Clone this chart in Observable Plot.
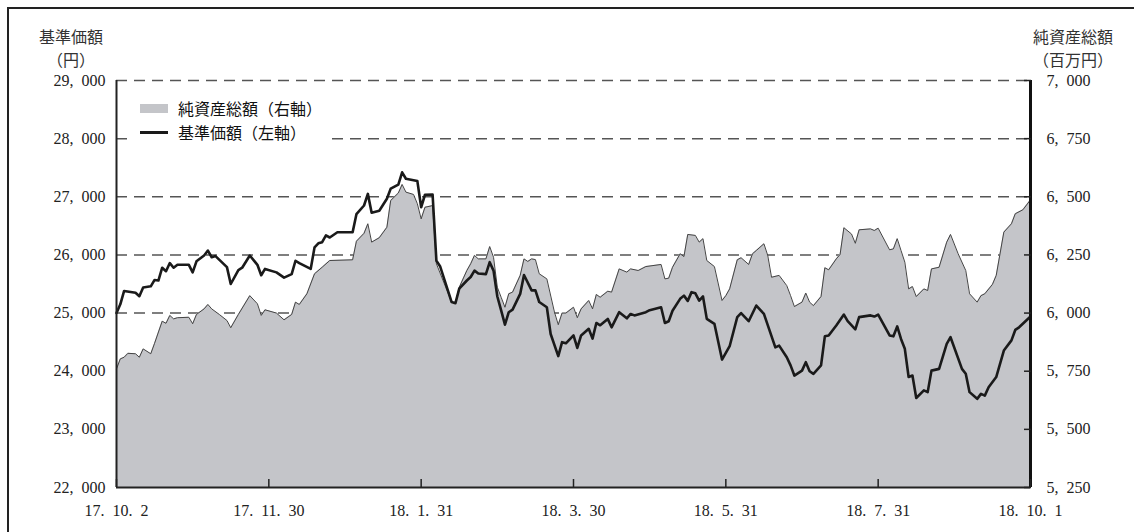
<!DOCTYPE html>
<html><head><meta charset="utf-8">
<script src="https://cdn.jsdelivr.net/npm/d3@7"></script>
<script src="https://cdn.jsdelivr.net/npm/@observablehq/plot@0.6"></script>
<style>
html,body{margin:0;padding:0;background:#fff;overflow:hidden;}
#wrap{position:relative;width:1134px;height:532px;overflow:hidden;background:#fff;}
#wrap svg{position:absolute;left:0;top:0;}
.frame{position:absolute;left:7px;top:7px;width:1200px;height:600px;border:2px solid #222;box-sizing:border-box;}
.ttl{position:absolute;font-family:"Noto Sans CJK JP";font-size:16px;line-height:normal;color:#333;text-align:center;white-space:nowrap;width:100px;}
.legend{position:absolute;left:128px;top:94px;width:202px;height:52px;background:#fff;font-family:"Noto Sans CJK JP";font-size:16px;color:#111;padding-top:2px;box-sizing:border-box;}
.row{height:24px;display:flex;align-items:center;padding-left:12px;}
.sw{width:28px;margin-right:10px;}
</style></head><body>
<div id="wrap"></div>
<script>
// x positions: trading-day index (0 = 17.10.2, 240 = 18.10.1)
const xTickIdx = [0, 40, 80, 120, 160, 200, 240];
const xTickLabels = ["17.10.2", "17.11.30", "18.1.31", "18.3.30", "18.5.31", "18.7.31", "18.10.1"];
const leftTicks = [22000, 23000, 24000, 25000, 26000, 27000, 28000, 29000];
const rightTicks = [5250, 5500, 5750, 6000, 6250, 6500, 6750, 7000];
const gridTicks = [25000, 26000, 27000, 28000, 29000];

// 基準価額 (left axis, 円)
const priceIdx = [0,1,2,5,6,7,9,10,11,12,13,14,15,16,19,20,21,23,24,25,26,29,30,32,33,35,37,38,39,42,44,46,47,48,51,52,53,54,55,56,58,62,63,65,66,67,69,71,72,74,75,76,79,80,81,83,84,85,88,89,90,92,93,94,95,97,98,99,100,101,102,103,104,106,107,109,110,111,113,114,116,117,118,120,121,122,124,125,126,127,129,130,132,134,135,136,139,140,143,144,145,146,148,149,150,151,152,153,154,155,157,159,161,163,164,166,168,170,173,174,176,177,178,180,181,182,183,185,186,187,189,191,192,194,195,198,199,200,203,204,205,206,207,208,209,210,212,213,214,216,218,219,222,223,224,226,227,228,229,231,233,235,236,237,240];
const priceVal = [25000,25150,25380,25350,25290,25440,25460,25570,25560,25780,25720,25860,25780,25830,25830,25700,25890,25990,26075,25960,25980,25790,25500,25740,25780,25990,25830,25650,25760,25700,25610,25670,25900,25860,25760,26130,26200,26220,26335,26300,26390,26390,26700,26850,27050,26725,26760,26965,27140,27210,27420,27310,27270,26820,27035,27040,25900,25800,25190,25170,25420,25560,25620,25730,25680,25670,25875,25730,25285,25045,24800,25015,25060,25330,25655,25390,25390,25190,25100,24640,24260,24500,24480,24615,24400,24615,24730,24560,24830,24790,24900,24755,25015,24910,24985,24960,25015,25050,25100,24830,24860,25040,25245,25300,25210,25360,25340,25215,25285,24900,24815,24200,24430,24930,25000,24860,25130,24985,24410,24440,24240,24100,23925,24010,24155,24000,23955,24100,24600,24615,24785,24975,24860,24720,24930,24960,24940,24975,24615,24600,24770,24555,24385,23900,23925,23540,23670,23640,24010,24040,24470,24585,24040,23955,23640,23525,23610,23580,23725,23900,24355,24530,24710,24755,24940];

// 純資産総額 (right axis, 百万円)
const navIdx = [0,1,2,3,5,6,7,9,10,12,13,14,15,16,19,20,21,23,24,25,27,29,30,32,35,37,38,39,42,44,46,47,48,50,52,54,56,62,63,65,66,67,69,71,72,74,75,76,78,79,80,81,83,84,88,89,90,92,93,94,95,97,98,99,100,101,102,103,104,106,107,108,109,110,111,113,115,116,117,118,120,121,122,124,125,126,127,129,130,132,134,135,137,139,143,144,145,146,148,149,150,152,153,154,155,157,159,160,161,163,164,166,167,168,170,171,172,174,176,177,178,180,181,182,183,185,186,187,189,190,191,193,194,195,198,199,200,203,204,205,206,207,208,209,210,212,213,214,216,218,219,221,223,224,226,227,228,230,231,233,235,236,238,240];
const navVal = [5760,5803,5810,5827,5825,5810,5846,5825,5870,5965,5956,5990,5975,5980,5982,5954,5994,6018,6037,6018,5994,5968,5937,5994,6075,6040,5990,6014,6000,5971,5994,6047,6037,6083,6169,6197,6226,6229,6309,6343,6384,6305,6324,6369,6484,6516,6553,6520,6510,6470,6405,6455,6462,6212,6047,6042,6111,6183,6212,6248,6233,6233,6286,6240,6111,6068,6025,6083,6090,6162,6233,6222,6233,6230,6169,6147,6004,5950,6000,6000,6025,5980,6018,6054,6018,6080,6068,6094,6090,6190,6176,6190,6183,6200,6209,6147,6150,6197,6255,6243,6338,6334,6305,6320,6226,6200,6054,6075,6104,6229,6238,6209,6255,6269,6298,6248,6154,6162,6118,6075,6028,6047,6086,6047,6032,6071,6195,6186,6233,6252,6367,6340,6300,6358,6362,6355,6365,6272,6276,6320,6269,6219,6104,6114,6071,6104,6097,6190,6197,6305,6338,6255,6183,6083,6047,6075,6083,6123,6162,6348,6384,6427,6444,6487];

// map right-axis values onto the left-axis scale
const toLeft = v => 22000 + (v - 5250) * 4;
const toRight = v => (v - 22000) / 4 + 5250;
const fmt = d3.format(",");
const spaced = s => s.replace(/([,.])/g, "$1\u2002");

const price = priceIdx.map((x, i) => ({x, y: priceVal[i]}));
const nav = navIdx.map((x, i) => ({x, y: toLeft(navVal[i])}));

const chart = Plot.plot({
  width: 1134, height: 532,
  marginLeft: 116, marginRight: 104, marginTop: 80, marginBottom: 45,
  x: {domain: [0, 240]},
  y: {domain: [22000, 29000]},
  style: {fontFamily: "'Liberation Serif', serif", fontSize: "16px", color: "#222", background: "transparent"},
  marks: [
    Plot.gridY(gridTicks, {stroke: "#555", strokeOpacity: 1, strokeWidth: 1.5, strokeDasharray: "11,7"}),
    Plot.areaY(nav, {x: "x", y1: 22000, y2: "y", fill: "#c4c5c9"}),
    Plot.line(nav, {x: "x", y: "y", stroke: "#444", strokeWidth: 1}),
    Plot.line(price, {x: "x", y: "y", stroke: "#1a1a1a", strokeWidth: 2.6}),
    Plot.ruleY([22000], {stroke: "#222", strokeWidth: 2}),
    Plot.ruleX([0], {stroke: "#222", strokeWidth: 2}),
    Plot.ruleX([240], {stroke: "#111", strokeWidth: 3}),
    Plot.axisY(leftTicks, {anchor: "left", tickSize: 0, tickPadding: 11, label: null, fontSize: 16,
      tickFormat: d => spaced(fmt(d))}),
    Plot.axisY(rightTicks.map(toLeft), {anchor: "right", tickSize: 7, dx: -7, tickPadding: 16, label: null, fontSize: 16,
      strokeWidth: 1.5, tickFormat: d => spaced(fmt(toRight(d)))}),
    Plot.axisX(xTickIdx, {anchor: "bottom", tickSize: 8, dy: -8, tickPadding: 17, label: null, fontSize: 16,
      strokeWidth: 1.5, tickFormat: d => spaced(xTickLabels[xTickIdx.indexOf(d)])})
  ]
});

const wrap = document.getElementById("wrap");
wrap.appendChild(chart);

const frame = document.createElement("div");
frame.className = "frame";
wrap.appendChild(frame);

function title(text, left, top) {
  const el = document.createElement("div");
  el.className = "ttl";
  el.style.left = left + "px";
  el.style.top = top + "px";
  el.textContent = text;
  wrap.appendChild(el);
}
title("基準価額", 21, 24);
title("（円）", 21, 47);
title("純資産総額", 1023, 24);
title("（百万円）", 1023, 47);

const lg = document.createElement("div");
lg.className = "legend";
lg.innerHTML =
  '<div class="row"><span class="sw" style="height:9px;background:#c4c5c9"></span><span>純資産総額（右軸）</span></div>' +
  '<div class="row"><span class="sw" style="height:3px;background:#1a1a1a"></span><span>基準価額（左軸）</span></div>';
wrap.appendChild(lg);
</script>
</body></html>
